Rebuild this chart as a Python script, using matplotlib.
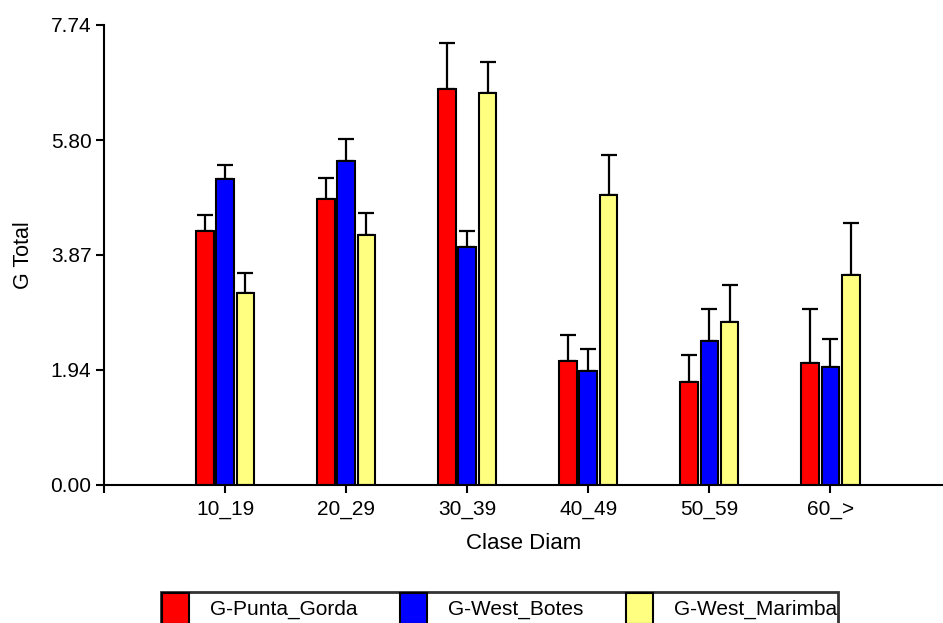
import matplotlib
matplotlib.use("Agg")
from matplotlib import pyplot as plt
import numpy as np

plt.rcParams['font.family'] = ['Liberation Sans', 'DejaVu Sans']

# diameter classes and mean G total per site, with the upper error
clases = ['10_19', '20_29', '30_39', '40_49', '50_59', '60_>']
punta_gorda = [4.27, 4.81, 6.66, 2.09, 1.74, 2.05]
punta_gorda_err = [0.27, 0.36, 0.77, 0.43, 0.44, 0.91]
west_botes = [5.15, 5.45, 4.00, 1.92, 2.42, 1.98]
west_botes_err = [0.23, 0.37, 0.27, 0.36, 0.54, 0.48]
west_marimba = [3.23, 4.21, 6.59, 4.88, 2.75, 3.53]
west_marimba_err = [0.34, 0.37, 0.53, 0.67, 0.61, 0.88]

series = [
    ('G-Punta_Gorda', punta_gorda, punta_gorda_err, '#ff0000'),
    ('G-West_Botes', west_botes, west_botes_err, '#0000ff'),
    ('G-West_Marimba', west_marimba, west_marimba_err, '#ffff80'),
]

yticks = [0.00, 1.94, 3.87, 5.80, 7.74]

fig = plt.figure(figsize=(9.43, 6.23), dpi=100)
ax = fig.add_axes([104 / 943, 1 - 485 / 623, 1 - 104 / 943, 460 / 623])

x = np.arange(1, len(clases) + 1)
width = 0.145
step = 0.168

handles = []
for i, (name, vals, err, col) in enumerate(series):
    pos = x + (i - 1) * step
    b = ax.bar(pos, vals, width, color=col, edgecolor='black', linewidth=1.5,
               label=name, zorder=3)
    ax.errorbar(pos, vals, yerr=[np.zeros(len(err)), err], fmt='none',
                ecolor='black', elinewidth=1.6, capsize=6, capthick=1.6, zorder=2)
    handles.append(b)

ax.set_xlim(0, 6.93)
ax.set_ylim(0, 7.74)
ax.set_yticks(yticks)
ax.set_yticklabels([f"{v:.2f}" for v in yticks])
ax.set_xticks([0] + list(x))
ax.set_xticklabels([''] + clases)

for s in ['top', 'right']:
    ax.spines[s].set_visible(False)
for s in ['left', 'bottom']:
    ax.spines[s].set_linewidth(1.5)
ax.spines['bottom'].set_zorder(4)

ax.tick_params(axis='both', length=6, width=1.5, labelsize=15, pad=3)
ax.tick_params(axis='x', pad=5)

ax.set_xlabel('Clase Diam', fontsize=16, labelpad=10)
ax.set_ylabel('G Total', fontsize=15.5, labelpad=12)

# legend box sits at the bottom edge and runs off the figure
leg = fig.legend(handles=handles, loc='upper left',
                 bbox_to_anchor=(161 / 943, 1 - 592 / 623), ncol=3,
                 fontsize=15, frameon=True, fancybox=False, shadow=False,
                 borderpad=0.05, borderaxespad=0, handlelength=1.3,
                 handleheight=1.9, handletextpad=1.0, columnspacing=2.05)
leg.get_frame().set_edgecolor('black')
leg.get_frame().set_linewidth(2)

fig.savefig('out.png', dpi=100)
